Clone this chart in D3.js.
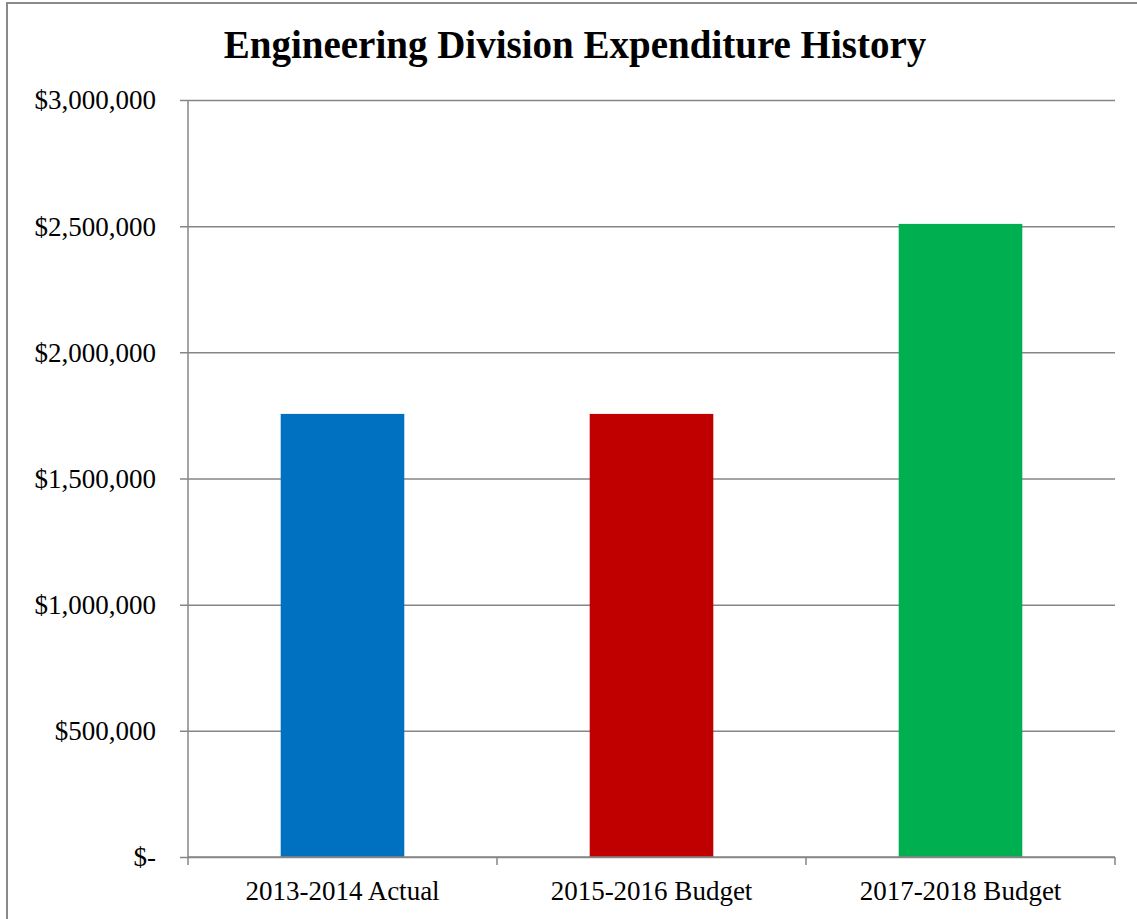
<!DOCTYPE html>
<html>
<head>
<meta charset="utf-8">
<script src="https://cdn.jsdelivr.net/npm/d3@7"></script>
<style>
  html, body { margin: 0; padding: 0; background: #fff; }
  svg { display: block; }
</style>
</head>
<body>
<svg id="chart" width="1137" height="919"></svg>
<script>
// Expenditure by period
const categories = ["2013-2014 Actual", "2015-2016 Budget", "2017-2018 Budget"];
const values = [1756000, 1756000, 2509000];
const barColors = ["#0070C0", "#C00000", "#00B050"];
const yTicks = [0, 500000, 1000000, 1500000, 2000000, 2500000, 3000000];
const titleText = "Engineering Division Expenditure History";

(function () {
  const svg = d3.select("#chart");
  const fontFamily = "'Liberation Serif', 'DejaVu Serif', serif";
  const gridColor = "#868686";

  const plotLeft = 188, plotRight = 1115, plotTop = 100, plotBottom = 857;

  // Outer chart frame
  svg.append("rect")
    .attr("x", 7).attr("y", 3)
    .attr("width", 1137).attr("height", 930)
    .attr("fill", "#fff")
    .attr("stroke", "#8a8a8a")
    .attr("stroke-width", 2);

  const x = d3.scaleBand()
    .domain(categories)
    .range([plotLeft, plotRight])
    .paddingInner(0.6)
    .paddingOuter(0.3);

  const y = d3.scaleLinear()
    .domain([0, 3000000])
    .range([plotBottom, plotTop]);

  const fmt = v => v === 0 ? "$-" : "$" + d3.format(",")(v);

  // Horizontal gridlines with tick stubs
  const yAxis = d3.axisLeft(y)
    .tickValues(yTicks)
    .tickFormat(fmt)
    .tickSize(-(plotRight - plotLeft))
    .tickPadding(32);

  const yg = svg.append("g")
    .attr("transform", `translate(${plotLeft},0)`)
    .call(yAxis);
  yg.select(".domain").remove();
  yg.selectAll(".tick line")
    .attr("x1", -8)
    .attr("stroke", gridColor)
    .attr("stroke-width", 1.5);
  yg.selectAll(".tick text")
    .attr("font-family", fontFamily)
    .attr("font-size", 27)
    .attr("fill", "#000")
    .attr("dy", "0.33em");

  // Bars
  svg.append("g")
    .selectAll("rect")
    .data(categories)
    .join("rect")
    .attr("x", d => x(d))
    .attr("width", x.bandwidth())
    .attr("y", (d, i) => y(values[i]))
    .attr("height", (d, i) => plotBottom - y(values[i]))
    .attr("fill", (d, i) => barColors[i]);

  // Vertical axis line
  svg.append("line")
    .attr("x1", plotLeft).attr("x2", plotLeft)
    .attr("y1", plotTop).attr("y2", plotBottom + 8)
    .attr("stroke", gridColor)
    .attr("stroke-width", 1.5);

  // Category axis
  const xAxis = d3.axisBottom(x)
    .tickSize(0)
    .tickPadding(24);
  const xg = svg.append("g")
    .attr("transform", `translate(0,${plotBottom})`)
    .call(xAxis);
  xg.select(".domain")
    .attr("d", `M${plotLeft},0H${plotRight}`)
    .attr("stroke", gridColor)
    .attr("stroke-width", 1.5);
  xg.selectAll(".tick text")
    .attr("font-family", fontFamily)
    .attr("font-size", 27)
    .attr("fill", "#000")
    .attr("dy", "0.71em");

  // Category boundary ticks
  const edges = d3.range(1, categories.length + 1)
    .map(i => plotLeft + i * x.step());
  svg.append("g")
    .selectAll("line")
    .data(edges)
    .join("line")
    .attr("x1", d => d).attr("x2", d => d)
    .attr("y1", plotBottom).attr("y2", plotBottom + 8)
    .attr("stroke", gridColor)
    .attr("stroke-width", 1.5);

  // Title
  svg.append("text")
    .attr("x", 575)
    .attr("y", 58)
    .attr("text-anchor", "middle")
    .attr("font-family", fontFamily)
    .attr("font-weight", "bold")
    .attr("font-size", 39)
    .attr("fill", "#000")
    .text(titleText);
})();
</script>
</body>
</html>
